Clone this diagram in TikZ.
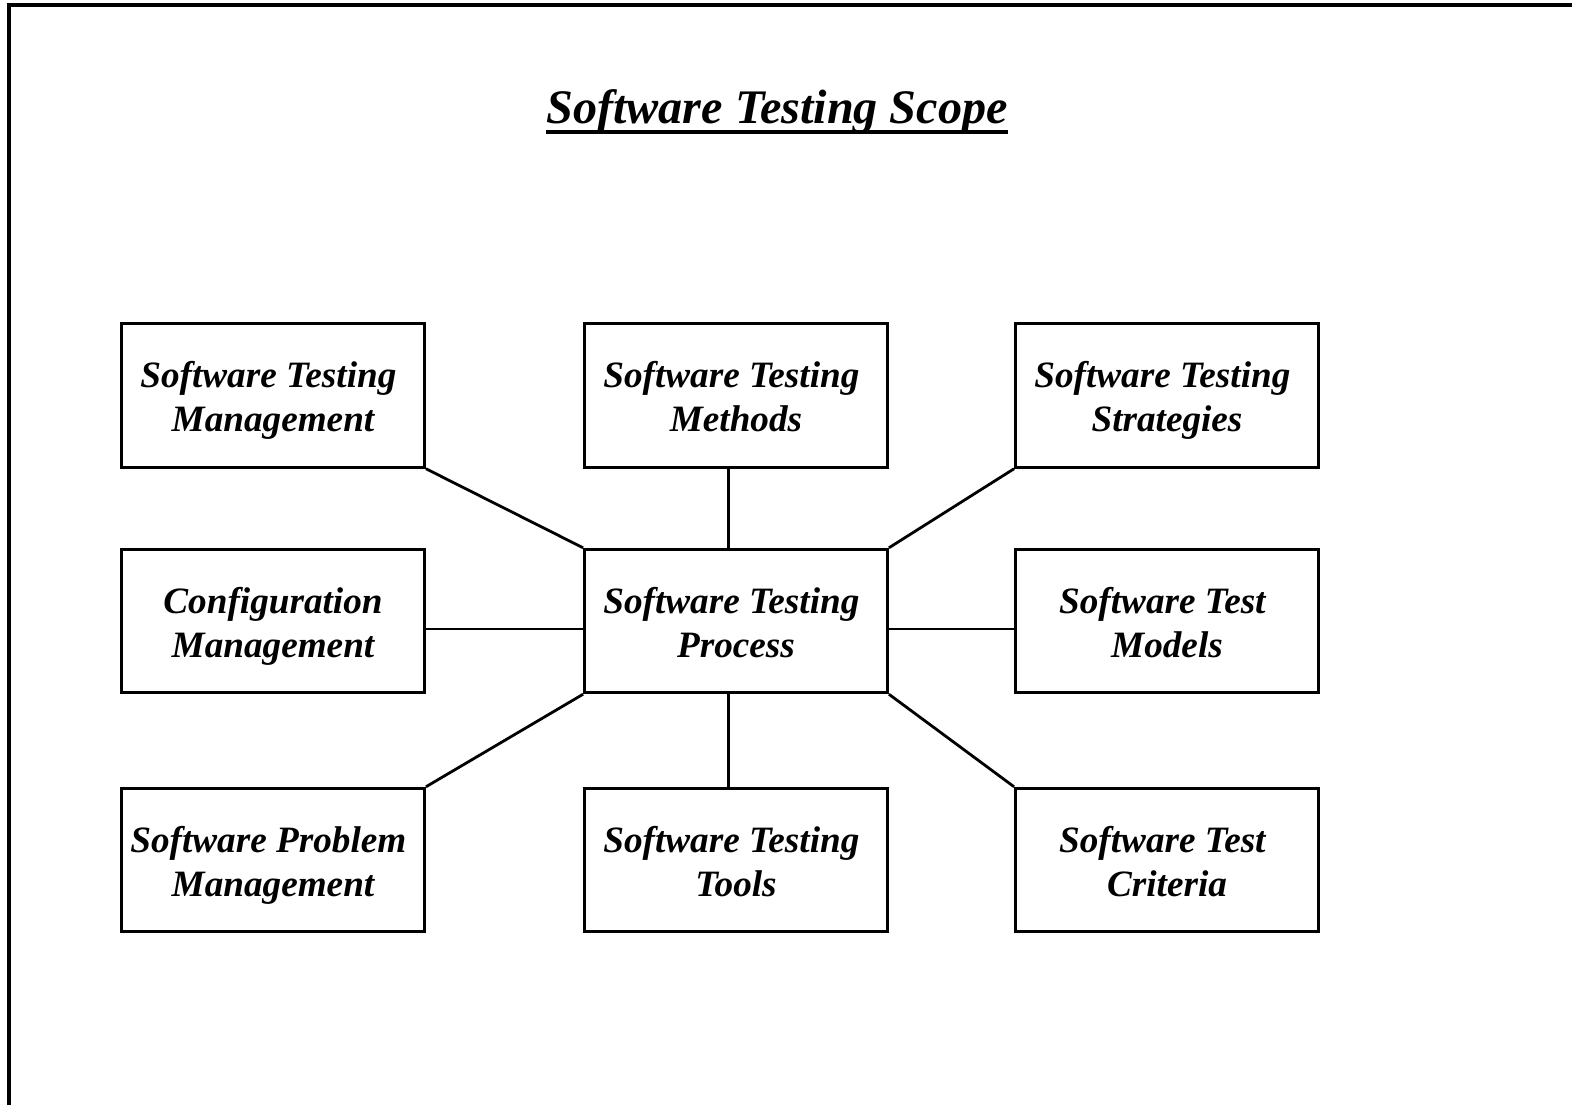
\documentclass[tikz,border=0pt]{standalone}
\usepackage{fontspec}
\setmainfont{Liberation Serif}
\usetikzlibrary{calc}
\newcommand{\topstr}{\rule{0pt}{19pt}}
\newcommand{\botstr}{\rule[-4.6pt]{0pt}{4.6pt}}
\newcommand{\trsp}{\ \mbox{}}
\begin{document}
\begin{tikzpicture}[x=0.5pt,y=-0.5pt,
  box/.style={draw,line width=1.4pt,minimum width=151.5pt,minimum height=71.8pt,
    inner sep=0pt,align=center,font=\fontsize{18.6}{22}\selectfont\bfseries\itshape},
  link/.style={line width=1.4pt},
  titletext/.style={inner sep=0pt,anchor=base,font=\fontsize{24.1}{28}\selectfont\bfseries\itshape}]
\useasboundingbox (0,0) rectangle (1572,1105);
\draw[line width=2pt] (9,1105) -- (9,5) -- (1572,5);
\node[titletext] (title) at (777,123) {Software Testing Scope};
\draw[line width=2pt] ([yshift=-4.5pt]title.base west) -- ([yshift=-4.5pt]title.base east);
\node[box] (mgmt) at (273,395.5) {\topstr Software Testing\trsp\\Management\botstr};
\node[box] (meth) at (736,395.5) {\topstr Software Testing\trsp\\Methods\botstr};
\node[box] (strat) at (1167,395.5) {\topstr Software Testing\trsp\\Strategies\botstr};
\node[box] (conf) at (273,621) {\topstr Configuration\\Management\botstr};
\node[box] (proc) at (736,621) {\topstr Software Testing\trsp\\Process\botstr};
\node[box] (models) at (1167,621) {\topstr Software Test\trsp\\Models\botstr};
\node[box] (prob) at (273,860) {\topstr Software Problem\trsp\\Management\botstr};
\node[box] (tools) at (736,860) {\topstr Software Testing\trsp\\Tools\botstr};
\node[box] (crit) at (1167,860) {\topstr Software Test\trsp\\Criteria\botstr};
\draw[link] (proc.north west) -- (mgmt.south east);
\draw[link] ([xshift=-3.7pt]proc.north) -- ([xshift=-3.7pt]meth.south);
\draw[link] (proc.north east) -- (strat.south west);
\draw[link] ([yshift=-4pt]proc.west) -- ([yshift=-4pt]conf.east);
\draw[link] ([yshift=-4pt]proc.east) -- ([yshift=-4pt]models.west);
\draw[link] (proc.south west) -- (prob.north east);
\draw[link] ([xshift=-3.7pt]proc.south) -- ([xshift=-3.7pt]tools.north);
\draw[link] (proc.south east) -- (crit.north west);
\end{tikzpicture}
\end{document}
